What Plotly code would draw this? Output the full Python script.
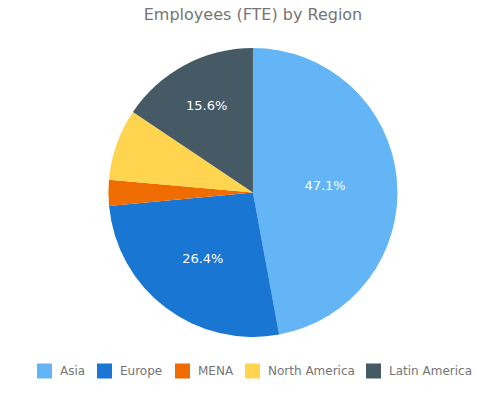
import plotly.graph_objects as go

regions = ["Asia", "Europe", "MENA", "North America", "Latin America"]
fte_share = [47.1, 26.4, 2.9, 8.0, 15.6]
colors = ["#64B5F6", "#1976D2", "#EF6C00", "#FFD54F", "#455A64"]
show_label = [True, True, False, False, True]

W, H = 495, 396

fig = go.Figure(go.Pie(
    labels=regions,
    values=fte_share,
    sort=False,
    direction="clockwise",
    rotation=0,
    marker=dict(colors=colors, line=dict(width=0)),
    texttemplate=["%{percent:.1%}" if s else "" for s in show_label],
    textposition="inside",
    insidetextfont=dict(color="white", size=13, family="DejaVu Sans"),
    hoverinfo="label+percent",
    domain=dict(x=[0.022, 1.0], y=[(H - 337) / H, (H - 48) / H]),
    showlegend=False,
))

# custom legend (layout only) matching the reference placement
swatch_left = [37, 97, 175, 245, 366]
legend_y = 371
shapes, annotations = [], []
for name, col, xl in zip(regions, colors, swatch_left):
    shapes.append(dict(type="rect", xref="paper", yref="paper",
                       x0=xl / W, x1=(xl + 15) / W,
                       y0=1 - (legend_y + 7.5) / H, y1=1 - (legend_y - 7.5) / H,
                       fillcolor=col, line=dict(width=0)))
    annotations.append(dict(text=name, xref="paper", yref="paper",
                            x=(xl + 21) / W, y=1 - legend_y / H,
                            xanchor="left", yanchor="middle", showarrow=False,
                            font=dict(size=12, color="#757575", family="DejaVu Sans")))

fig.update_layout(
    width=W, height=H,
    margin=dict(t=0, b=0, l=0, r=0),
    paper_bgcolor="white",
    font=dict(family="DejaVu Sans", color="#757575"),
    title=dict(text="Employees (FTE) by Region", x=253 / W, xanchor="center",
               y=1 - 14 / H, yanchor="middle", font=dict(size=16, color="#757575")),
    shapes=shapes,
    annotations=annotations,
)

fig.write_html("out.html",
               config={"displayModeBar": False},
               post_script="document.body.style.margin='0';document.body.style.overflow='hidden';")
